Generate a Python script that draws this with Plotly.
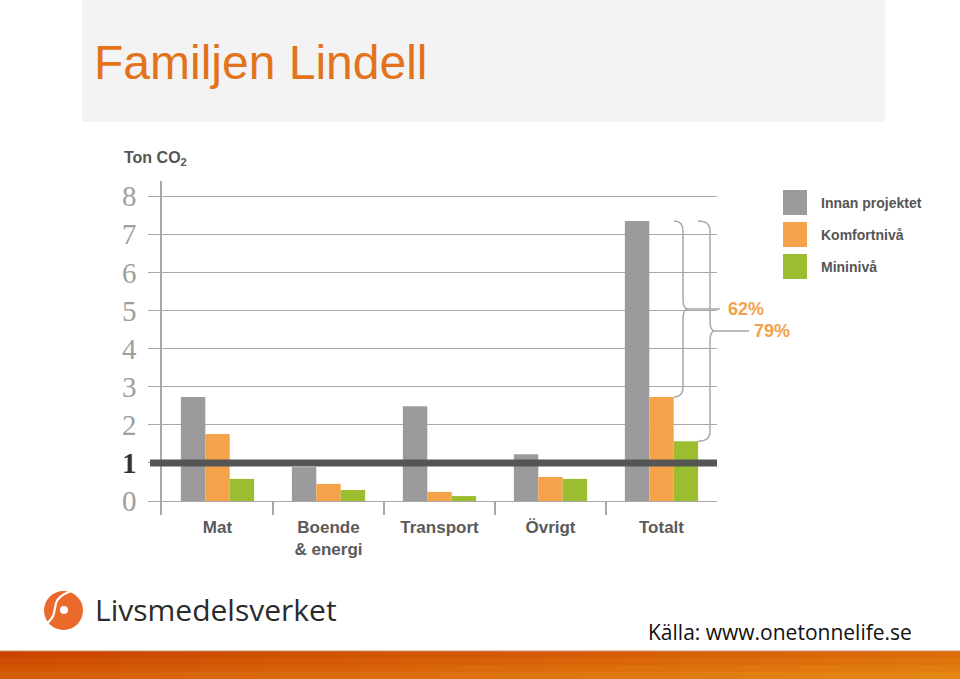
import plotly.graph_objects as go

# ---- data ----
categories = ["Mat", "Boende<br>& energi", "Transport", "Övrigt", "Totalt"]
series_names = ["Innan projektet", "Komfortnivå", "Mininivå"]
innan = [2.73, 0.89, 2.49, 1.23, 7.35]
komfort = [1.76, 0.45, 0.24, 0.63, 2.73]
mini = [0.58, 0.29, 0.13, 0.58, 1.57]
reduction_labels = ["62%", "79%"]
y_ticks = [0, 1, 2, 3, 4, 5, 6, 7, 8]
target_level = 1

# ---- style ----
colors = ["#9b9b9d", "#f5a34a", "#9cbd2f"]
W, H = 960, 679
ML, MR, MT, MB = 162, 243, 181, 164
PW = W - ML - MR
PH = H - MT - MB
Y0 = H - MB  # pixel row of plot bottom


def px_x(px):
    return (px - ML) / PW


def px_y(py):
    return (Y0 - py) / PH


fig = go.Figure()
for name, vals, col in zip(series_names, [innan, komfort, mini], colors):
    fig.add_trace(go.Bar(x=categories, y=vals, name=name, marker_color=col,
                         marker_line_width=0, showlegend=False, hoverinfo="skip"))

ymin = -(14 / 38.1)
ymax = (501 - 181) / 38.1

ticktext = []
for v in y_ticks:
    if v == target_level:
        ticktext.append("<span style='color:#333333'><b>%d</b></span>" % v)
    else:
        ticktext.append(str(v))

shapes = []
annotations = []

# title band
shapes.append(dict(type="rect", xref="paper", yref="paper", x0=px_x(82), x1=px_x(885),
                   y0=px_y(122), y1=px_y(0), fillcolor="#f3f3f3", line_width=0, layer="below"))
annotations.append(dict(text="Familjen Lindell", xref="paper", yref="paper", x=px_x(92), y=px_y(62),
                        xanchor="left", yanchor="middle", showarrow=False,
                        font=dict(family="Liberation Sans, Arial", size=48, color="#e2731c")))

# y-axis title
annotations.append(dict(text="<b>Ton CO<sub>2</sub></b>", xref="paper", yref="paper", x=px_x(122), y=px_y(158),
                        xanchor="left", yanchor="middle", showarrow=False,
                        font=dict(family="Liberation Sans, Arial", size=16, color="#555555")))

# target line at 1 ton
shapes.append(dict(type="line", xref="paper", yref="y", x0=px_x(150), x1=1, y0=target_level, y1=target_level,
                   line=dict(color="#555555", width=7), layer="above"))

# braces
tot_top = innan[-1]
brace_bottoms = [komfort[-1], mini[-1]]
brace_geom = [(674, 683, 688, 720, 726), (698, 710, 715, 749, 752)]
r = 10 / 38.1
for (x0p, x1p, xtp, xlp, xtext), ybot, lab in zip(brace_geom, brace_bottoms, reduction_labels):
    ytop = tot_top
    ymid = (ytop + ybot) / 2
    a, b, c = px_x(x0p), px_x(x1p), px_x(xtp)
    path = ("M %f,%f Q %f,%f %f,%f L %f,%f Q %f,%f %f,%f Q %f,%f %f,%f L %f,%f Q %f,%f %f,%f" % (
        a, ytop, b, ytop, b, ytop - r,
        b, ymid + r,
        b, ymid, c, ymid,
        b, ymid, b, ymid - r,
        b, ybot + r,
        b, ybot, a, ybot))
    shapes.append(dict(type="path", xref="paper", yref="y", path=path,
                       line=dict(color="#a8a8a8", width=1.5)))
    shapes.append(dict(type="line", xref="paper", yref="y", x0=c, x1=px_x(xlp), y0=ymid, y1=ymid,
                       line=dict(color="#a8a8a8", width=1.5)))
    annotations.append(dict(text="<b>%s</b>" % lab, xref="paper", yref="y", x=px_x(xtext), y=ymid,
                            xanchor="left", yanchor="middle", showarrow=False,
                            font=dict(family="Liberation Sans, Arial", size=18, color="#f2a04c")))

# manual legend
leg_tops = [190, 222, 254]
for name, col, top in zip(series_names, colors, leg_tops):
    shapes.append(dict(type="rect", xref="paper", yref="paper", x0=px_x(783), x1=px_x(807),
                       y0=px_y(top + 25), y1=px_y(top), fillcolor=col, line_width=0))
    annotations.append(dict(text="<b>%s</b>" % name, xref="paper", yref="paper", x=px_x(819),
                            y=px_y(top + 12.5), xanchor="left", yanchor="middle", showarrow=False,
                            font=dict(family="Liberation Sans, Arial", size=14, color="#555555")))

# logo
shapes.append(dict(type="circle", xref="paper", yref="paper", x0=px_x(44), x1=px_x(83),
                   y0=px_y(630), y1=px_y(591), fillcolor="#ea6a2c", line_width=0))
logo_path = "M %f,%f Q %f,%f %f,%f L %f,%f Q %f,%f %f,%f" % (
    px_x(71), px_y(591), px_x(58), px_y(596), px_x(56), px_y(603),
    px_x(54), px_y(613), px_x(53), px_y(619), px_x(46), px_y(624))
shapes.append(dict(type="path", xref="paper", yref="paper", path=logo_path,
                   line=dict(color="white", width=2.2)))
shapes.append(dict(type="circle", xref="paper", yref="paper", x0=px_x(60), x1=px_x(68),
                   y0=px_y(614), y1=px_y(606), fillcolor="white", line_width=0))
annotations.append(dict(text="Livsmedelsverket", xref="paper", yref="paper", x=px_x(93), y=px_y(609),
                        xanchor="left", yanchor="middle", showarrow=False,
                        font=dict(family="Open Sans", size=30, color="#2b2b2b")))

# source
annotations.append(dict(text="Källa: www.onetonnelife.se", xref="paper", yref="paper", x=px_x(914), y=px_y(632),
                        xanchor="right", yanchor="middle", showarrow=False,
                        font=dict(family="Open Sans", size=21, color="#111111")))

# orange band gradient
def lerp(c1, c2, t):
    return "#%02x%02x%02x" % tuple(int(round(c1[i] + (c2[i] - c1[i]) * t)) for i in range(3))

tl, tr = (200, 64, 0), (220, 104, 8)
bl, br = (214, 96, 8), (230, 140, 20)
ncol, nrow = 48, 4
band_top, band_bot = 651, 679
for i in range(ncol):
    tx = (i + 0.5) / ncol
    for j in range(nrow):
        ty = (j + 0.5) / nrow
        top_c = [tl[k] + (tr[k] - tl[k]) * tx for k in range(3)]
        bot_c = [bl[k] + (br[k] - bl[k]) * tx for k in range(3)]
        col = lerp(top_c, bot_c, ty)
        y_a = band_top + (band_bot - band_top) * j / nrow
        y_b = band_top + (band_bot - band_top) * (j + 1) / nrow
        shapes.append(dict(type="rect", xref="paper", yref="paper",
                           x0=px_x(W * i / ncol), x1=px_x(W * (i + 1) / ncol + 1),
                           y0=px_y(y_b + 0.5), y1=px_y(y_a), fillcolor=col, line_width=0))
shapes.append(dict(type="line", xref="paper", yref="paper", x0=px_x(0), x1=px_x(W),
                   y0=px_y(651), y1=px_y(651), line=dict(color="#c89070", width=1.2)))

fig.update_layout(
    width=W, height=H,
    margin=dict(l=ML, r=MR, t=MT, b=MB, pad=0),
    paper_bgcolor="white", plot_bgcolor="white",
    barmode="group", bargap=0.34, bargroupgap=0,
    shapes=shapes, annotations=annotations,
    showlegend=False,
    xaxis=dict(type="category", range=[-0.5, 4.5], showline=False, showgrid=False, zeroline=False,
               ticks="inside", tickson="boundaries", ticklen=14, tickwidth=1.5, tickcolor="#a8a8a8",
               tickfont=dict(family="Liberation Sans, Arial", size=17, color="#5a5a5a", weight="bold"),
               fixedrange=True),
    yaxis=dict(range=[ymin, ymax], tickvals=y_ticks, ticktext=ticktext, showgrid=True,
               gridcolor="#a8a8a8", gridwidth=1.2, zeroline=False, showline=True,
               linecolor="#a8a8a8", linewidth=1.5, ticks="outside", ticklen=12, tickwidth=1.2,
               tickcolor="#a8a8a8", ticklabelstandoff=6,
               tickfont=dict(family="Liberation Serif, serif", size=29, color="#9e9e9e"),
               fixedrange=True),
)

fig.write_html("out.html", config={"displayModeBar": False},
               post_script="document.body.style.margin='0px';document.body.style.overflow='hidden';")
